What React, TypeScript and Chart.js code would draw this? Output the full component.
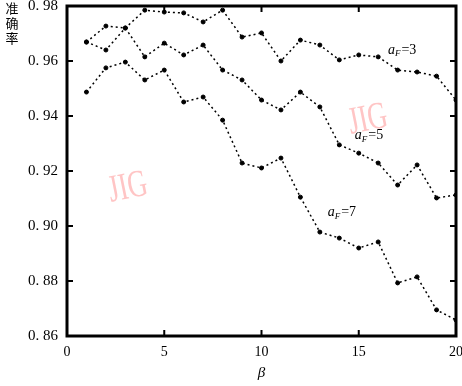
import React, { useEffect, useRef } from "react";
import { Chart, registerables } from "chart.js";

Chart.register(...registerables);

const xValues = [1, 2, 3, 4, 5, 6, 7, 8, 9, 10, 11, 12, 13, 14, 15, 16, 17, 18, 19, 20];
const seriesA3 = [0.9669, 0.964, 0.972, 0.9785, 0.9778, 0.9775, 0.9742, 0.9785, 0.9687, 0.9702, 0.96, 0.9676, 0.9658, 0.9604, 0.9622, 0.9615, 0.9567, 0.956, 0.9545, 0.9458];
const seriesA5 = [0.9669, 0.9727, 0.972, 0.9615, 0.9665, 0.9622, 0.9658, 0.9567, 0.9531, 0.9458, 0.9422, 0.9487, 0.9433, 0.9295, 0.9265, 0.9229, 0.9149, 0.9222, 0.9102, 0.9113];
const seriesA7 = [0.9487, 0.9575, 0.9596, 0.9531, 0.9567, 0.9451, 0.9469, 0.9385, 0.9229, 0.9211, 0.9247, 0.9105, 0.8978, 0.8956, 0.892, 0.8942, 0.8793, 0.8815, 0.8695, 0.8658];
const seriesNames = ["3", "5", "7"];
const labelX = [16.5, 14.8, 13.4];
const labelY = [0.964, 0.933, 0.905];
const xTicks = [0, 5, 10, 15, 20];
const xTickLabels = ["0", "5", "10", "15", "20"];
const yTicks = [0.86, 0.88, 0.9, 0.92, 0.94, 0.96, 0.98];
const yTickLabels = ["0. 86", "0. 88", "0. 90", "0. 92", "0. 94", "0. 96", "0. 98"];
const yTitle = ["准", "确", "率"];
const xTitle = "β";

const framePlugin = {
  id: "framePlugin",
  afterDatasetsDraw(chart: any) {
    const { ctx, chartArea: a, scales } = chart;
    const xs = scales.x;
    const ys = scales.y;
    ctx.save();
    // watermarks
    ctx.fillStyle = "rgba(255,150,150,0.55)";
    ctx.font = "32px 'Liberation Serif', serif";
    const wm = [
      [128, 188],
      [368, 120],
    ];
    wm.forEach(([px, py]) => {
      ctx.save();
      ctx.translate(px, py);
      ctx.rotate(-0.2);
      ctx.scale(0.85, 1.2);
      ctx.textAlign = "center";
      ctx.textBaseline = "middle";
      ctx.fillText("JIG", 0, 0);
      ctx.restore();
    });
    // frame
    ctx.strokeStyle = "#000";
    ctx.lineWidth = 3;
    ctx.strokeRect(a.left, a.top, a.right - a.left, a.bottom - a.top);
    // inward ticks
    ctx.lineWidth = 2;
    yTicks.forEach((v) => {
      const py = ys.getPixelForValue(v);
      ctx.beginPath();
      ctx.moveTo(a.left, py);
      ctx.lineTo(a.left + 6, py);
      ctx.moveTo(a.right, py);
      ctx.lineTo(a.right - 6, py);
      ctx.stroke();
    });
    xTicks.forEach((v) => {
      const px = xs.getPixelForValue(v);
      ctx.beginPath();
      ctx.moveTo(px, a.bottom);
      ctx.lineTo(px, a.bottom - 6);
      ctx.moveTo(px, a.top);
      ctx.lineTo(px, a.top + 6);
      ctx.stroke();
    });
    // series labels
    ctx.fillStyle = "#000";
    ctx.textBaseline = "middle";
    seriesNames.forEach((n, i) => {
      let px = xs.getPixelForValue(labelX[i]);
      const py = ys.getPixelForValue(labelY[i]);
      ctx.font = "italic 14px 'Liberation Serif', serif";
      ctx.fillText("a", px, py);
      px += ctx.measureText("a").width;
      ctx.font = "italic 9px 'Liberation Serif', serif";
      ctx.fillText("F", px, py + 4);
      px += ctx.measureText("F").width + 1;
      ctx.font = "14px 'Liberation Serif', serif";
      ctx.fillText("=" + n, px, py);
    });
    ctx.restore();
  },
};

export default function App() {
  const ref = useRef<HTMLCanvasElement>(null);
  useEffect(() => {
    if (!ref.current) return;
    const mk = (data: number[]) => ({
      data: xValues.map((x, i) => ({ x, y: data[i] })),
      borderColor: "#000",
      backgroundColor: "#000",
      borderWidth: 1.5,
      borderDash: [2, 3],
      pointRadius: 2,
      pointBorderWidth: 1,
      tension: 0,
    });
    const chart = new Chart(ref.current, {
      type: "line",
      data: { datasets: [mk(seriesA3), mk(seriesA5), mk(seriesA7)] },
      plugins: [framePlugin],
      options: {
        animation: false,
        responsive: false,
        maintainAspectRatio: false,
        layout: { padding: { top: 6, right: 6, left: 0, bottom: 0 } },
        plugins: { legend: { display: false }, tooltip: { enabled: false } },
        scales: {
          x: {
            type: "linear",
            min: 0,
            max: 20,
            afterBuildTicks: (s: any) => {
              s.ticks = xTicks.map((v) => ({ value: v }));
            },
            afterFit: (s: any) => {
              s.height = 50;
              s.paddingLeft = 0;
              s.paddingRight = 0;
            },
            grid: { display: false, drawTicks: false },
            border: { display: false },
            ticks: {
              color: "#000",
              padding: 8,
              font: { family: "'Liberation Serif', serif", size: 14 },
              callback: (v: any, i: number) => xTickLabels[i],
            },
            title: {
              display: true,
              text: xTitle,
              color: "#000",
              padding: { top: 2 },
              font: { family: "'Liberation Serif', serif", size: 15, style: "italic" },
            },
          },
          y: {
            type: "linear",
            min: 0.86,
            max: 0.98,
            afterBuildTicks: (s: any) => {
              s.ticks = yTicks.map((v) => ({ value: v }));
            },
            afterFit: (s: any) => {
              s.width = 67;
              s.paddingTop = 0;
              s.paddingBottom = 0;
            },
            grid: { display: false, drawTicks: false },
            border: { display: false },
            ticks: {
              color: "#000",
              padding: 9,
              font: { family: "'Liberation Serif', serif", size: 15 },
              callback: (v: any, i: number) => yTickLabels[i],
            },
          },
        },
      },
    });
    return () => chart.destroy();
  }, []);
  return (
    <div style={{ position: "fixed", left: 0, top: 0, width: 462, height: 386, background: "#fff" }}>
      <canvas ref={ref} width={462} height={386} style={{ display: "block" }} />
      <div
        style={{
          position: "absolute",
          left: 5,
          top: 0,
          fontFamily: "'Noto Sans CJK SC', sans-serif",
          fontSize: 13,
          lineHeight: "15px",
          color: "#000",
          width: 14,
          textAlign: "center",
        }}
      >
        {yTitle.map((c, i) => (
          <div key={i}>{c}</div>
        ))}
      </div>
    </div>
  );
}
